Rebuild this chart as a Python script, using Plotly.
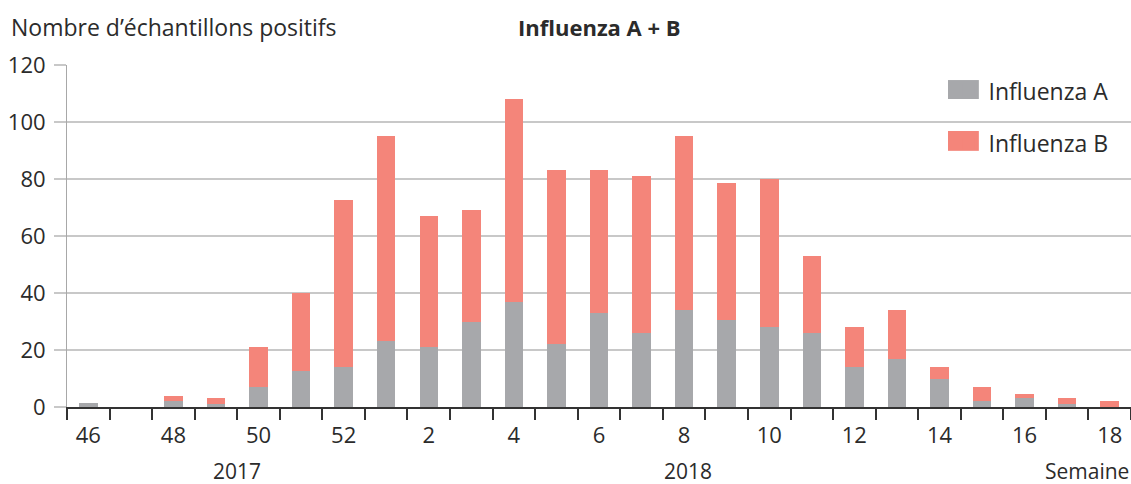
import plotly.graph_objects as go

weeks = ["46", "47", "48", "49", "50", "51", "52", "1", "2", "3", "4", "5", "6",
         "7", "8", "9", "10", "11", "12", "13", "14", "15", "16", "17", "18"]
influenza_a = [1.5, 0, 2, 1, 7, 12.5, 14, 23, 21, 30, 37, 22, 33,
               26, 34, 30.5, 28, 26, 14, 17, 10, 2, 3, 1, 0]
influenza_b = [0, 0, 2, 2, 14, 27.5, 58.5, 72, 46, 39, 71, 61, 50,
               55, 61, 48, 52, 27, 14, 17, 4, 5, 1.5, 2, 2]
y_ticks = [0, 20, 40, 60, 80, 100, 120]
years = [("2017", 3.5), ("2018", 14.1)]

COLOR_A = "#a7a8ab"
COLOR_B = "#f4857a"
idx = list(range(len(weeks)))
FONT = "Open Sans"
TXT = "#2b2b2b"

fig = go.Figure()
fig.add_trace(go.Bar(x=idx, y=influenza_a, name="Influenza A", marker_color=COLOR_A,
                     marker_line_width=0, width=0.435, legendgroup="a"))
fig.add_trace(go.Bar(x=idx, y=influenza_b, name="Influenza B", marker_color=COLOR_B,
                     marker_line_width=0, width=0.435, legendgroup="b"))

fig.update_layout(
    width=1131, height=484,
    margin=dict(l=67, r=0, t=65, b=77),
    barmode="stack",
    plot_bgcolor="white", paper_bgcolor="white",
    font=dict(family=FONT, size=22, color=TXT),
    showlegend=True,
    legend=dict(x=0.8285, y=0.988, xanchor="left", yanchor="top", traceorder="grouped",
                bgcolor="rgba(0,0,0,0)", font=dict(size=23, color=TXT),
                tracegroupgap=20, itemwidth=30),
)

# enlarge legend swatches to the reference's wide rectangles
for col, (y0, y1) in [(COLOR_A, (0.9006, 0.956)), (COLOR_B, (0.749, 0.807))]:
    fig.add_shape(type="rect", xref="paper", yref="paper", x0=0.828, x1=0.857,
                  y0=y0, y1=y1, fillcolor=col, line_width=0, layer="above")

fig.update_xaxes(
    range=[-0.5, 24.5],
    tickvals=idx[::2], ticktext=weeks[::2], ticks="",
    showline=True, linecolor="#333333", linewidth=1.5,
    showgrid=False, zeroline=False,
    minor=dict(tick0=-0.5, dtick=1, ticks="outside", ticklen=11,
               tickcolor="#333333", tickwidth=1.5, showgrid=False),
    tickfont=dict(size=22, color=TXT),
    ticklabelstandoff=8,
)
fig.update_yaxes(
    range=[0, 120], tickvals=y_ticks,
    showgrid=True, gridcolor="#c8c8c8", gridwidth=2,
    ticks="outside", ticklen=12, tickcolor="#c8c8c8", tickwidth=2,
    showline=True, linecolor="#a8a8a8", linewidth=1,
    zeroline=False,
    tickfont=dict(size=22, color=TXT),
    ticklabelstandoff=4,
)

for label, xpos in years:
    fig.add_annotation(x=xpos, xref="x", y=0, yref="paper", yshift=-64,
                       text=label, showarrow=False, xanchor="center", yanchor="middle",
                       font=dict(size=21, color=TXT))
fig.add_annotation(x=1, xref="paper", y=0, yref="paper", yshift=-64,
                   text="Semaine", showarrow=False, xanchor="right", yanchor="middle",
                   font=dict(size=21, color=TXT))
fig.add_annotation(x=0.5, xref="paper", y=1, yref="paper", yshift=38,
                   text="<b>Influenza A + B</b>", showarrow=False, xanchor="center",
                   yanchor="middle", font=dict(size=22, color=TXT))
fig.add_annotation(x=0, xref="paper", xshift=-58, y=1, yref="paper", yshift=38,
                   text="Nombre d’échantillons positifs", showarrow=False, xanchor="left",
                   yanchor="middle", font=dict(size=23, color=TXT))

fig.write_html("out.html", config={"displayModeBar": False},
               post_script="document.body.style.margin='0px';")
